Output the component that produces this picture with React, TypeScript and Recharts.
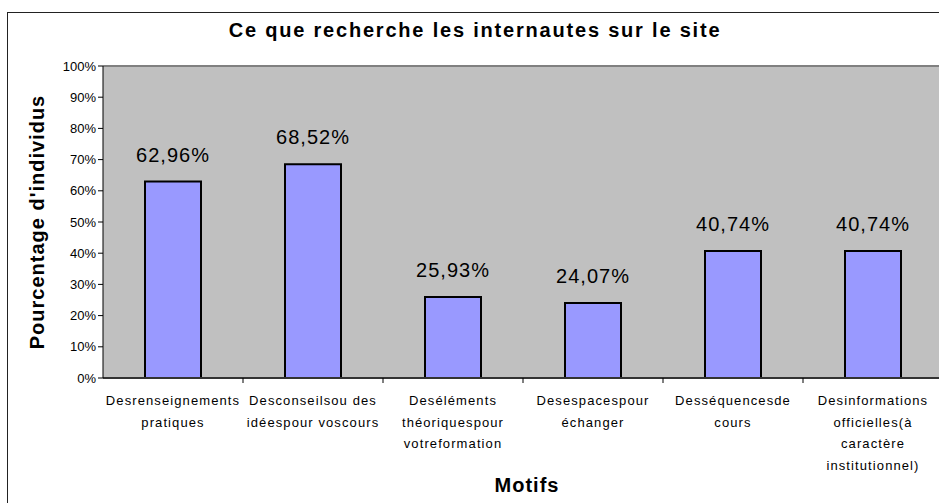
import React from "react";
import {
  BarChart,
  Bar,
  XAxis,
  YAxis,
  CartesianGrid,
  ReferenceLine,
  LabelList,
  Label,
} from "recharts";

const motifs = [
  "Desrenseignements\npratiques",
  "Desconseilsou des\nidéespour voscours",
  "Deséléments\nthéoriquespour\nvotreformation",
  "Desespacespour\néchanger",
  "Desséquencesde\ncours",
  "Desinformations\nofficielles(à\ncaractère\ninstitutionnel)",
];
const pourcentages = [62.96, 68.52, 25.93, 24.07, 40.74, 40.74];
const yTicks = [0, 10, 20, 30, 40, 50, 60, 70, 80, 90, 100];

const data = motifs.map((m, i) => ({ motif: m, valeur: pourcentages[i] }));

const FONT = "'Liberation Sans', Arial, sans-serif";

const fmtPct = (v: number) => `${v.toFixed(2).replace(".", ",")}%`;

const CategoryTick = (props: any) => {
  const { x, y, payload } = props;
  const lines = String(payload.value).split("\n");
  const half = payload.offset || 70;
  return (
    <g>
      <line x1={x + half} y1={y - 8} x2={x + half} y2={y - 3} stroke="#000" />
      <text
        x={x}
        y={y}
        textAnchor="middle"
        fontSize={13}
        fontFamily={FONT}
        letterSpacing={1.1}
        fill="#000"
      >
        {lines.map((l: string, i: number) => (
          <tspan key={i} x={x} dy={i === 0 ? 19 : 21.5}>
            {l}
          </tspan>
        ))}
      </text>
    </g>
  );
};

export default function App() {
  return (
    <div
      style={{
        position: "absolute",
        left: 0,
        top: 0,
        width: 939,
        height: 503,
        overflow: "hidden",
        background: "#fff",
      }}
    >
      <div
        style={{
          position: "absolute",
          left: 7,
          top: 12,
          width: 1000,
          height: 600,
          border: "1.5px solid #222",
        }}
      />
      <div
        style={{
          position: "absolute",
          left: 0,
          top: 19,
          width: 950,
          textAlign: "center",
          fontFamily: FONT,
          fontWeight: "bold",
          fontSize: 20,
          letterSpacing: 1.8,
        }}
      >
        Ce que recherche les internautes sur le site
      </div>
      <div style={{ position: "absolute", left: 0, top: 0 }}>
        <BarChart
          width={960}
          height={503}
          data={data}
          margin={{ top: 66, right: 17, bottom: 0, left: 0 }}
          barCategoryGap="30%"
        >
          <CartesianGrid
            fill="#C0C0C0"
            horizontal={false}
            vertical={false}
          />
          <ReferenceLine y={100} stroke="#808080" strokeWidth={2} />
          <XAxis
            dataKey="motif"
            height={125}
            interval={0}
            tickLine={false}
            axisLine={{ stroke: "#333", strokeWidth: 2 }}
            tick={<CategoryTick />}
          >
            <Label
              content={() => (
                <text
                  x={527}
                  y={492}
                  textAnchor="middle"
                  fontFamily={FONT}
                  fontWeight="bold"
                  fontSize={20}
                  letterSpacing={1}
                  fill="#000"
                >
                  Motifs
                </text>
              )}
            />
          </XAxis>
          <YAxis
            width={103}
            domain={[0, 100]}
            ticks={yTicks}
            interval={0}
            tickFormatter={(v) => `${v}%`}
            tick={{ fontSize: 13, fontFamily: FONT, fill: "#000" }}
            tickSize={5}
            tickLine={{ stroke: "#000" }}
            axisLine={{ stroke: "#000" }}
          >
            <Label
              content={() => (
                <text
                  x={44}
                  y={222}
                  transform="rotate(-90 44 222)"
                  textAnchor="middle"
                  fontFamily={FONT}
                  fontWeight="bold"
                  fontSize={20}
                  letterSpacing={1}
                  fill="#000"
                >
                  Pourcentage d'individus
                </text>
              )}
            />
          </YAxis>
          <Bar
            dataKey="valeur"
            fill="#9999FF"
            stroke="#000"
            strokeWidth={2}
            isAnimationActive={false}
          >
            <LabelList
              dataKey="valeur"
              position="top"
              offset={20}
              formatter={(v: any) => fmtPct(Number(v))}
              fontSize={20}
              fontFamily={FONT}
              letterSpacing={1}
              fill="#000"
            />
          </Bar>
        </BarChart>
      </div>
    </div>
  );
}
